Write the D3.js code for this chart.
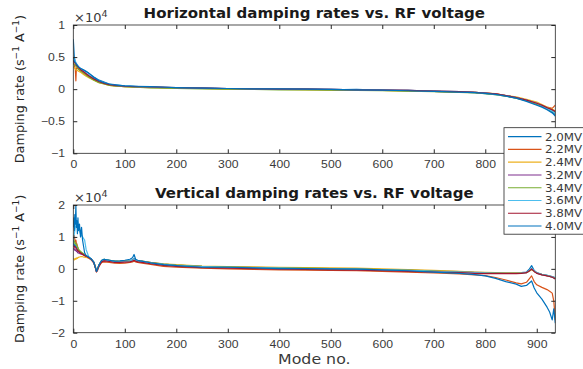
<!DOCTYPE html>
<html>
<head>
<meta charset="utf-8">
<script src="https://cdn.jsdelivr.net/npm/d3@7"></script>
<style>
  body { margin: 0; background: #fff; }
  svg { display: block; font-family: "DejaVu Sans", sans-serif; }
  .axis text { fill: #3a3a3a; font-size: 10.8px; }
  .axis line { stroke: #262626; }
</style>
</head>
<body>
<div id="chart"></div>
<script>
// legend labels / series names
var voltages = ["2.0MV", "2.2MV", "2.4MV", "3.2MV", "3.4MV", "3.6MV", "3.8MV", "4.0MV"];
var colors = ["#0072BD", "#D95319", "#EDB120", "#7E2F8E", "#77AC30", "#4DBEEE", "#A2142F", "#0072BD"];

// x ticks and y ticks (units of 1e4)
var modeTicks = [0, 100, 200, 300, 400, 500, 600, 700, 800, 900];
var hTicks = [-1, -0.5, 0, 0.5, 1];
var vTicks = [-2, -1, 0, 1, 2];

// horizontal damping rates, sampled at hModes (x 1e4 s^-1 A^-1)
var hModes = [0,2,4,5,6,8,10,15,20,25,30,40,50,60,70,80,100,120,150,180,200,250,300,350,400,450,500,550,600,650,700,750,780,800,820,840,860,880,900,910,920,930,936];
var h20 = [0.78,0.5,0.42,0.4,0.38,0.35,0.33,0.31,0.29,0.27,0.25,0.19,0.14,0.11,0.08,0.07,0.05,0.045,0.03,0.03,0.02,0.02,0.005,0.01,0.0,0.005,-0.01,-0.005,-0.02,-0.02,-0.035,-0.045,-0.055,-0.07,-0.085,-0.11,-0.14,-0.18,-0.24,-0.27,-0.31,-0.36,-0.4];
var h22 = [0.42,0.38,0.3,0.13,0.33,0.33,0.31,0.28,0.25,0.22,0.2,0.15,0.11,0.09,0.07,0.05,0.04,0.035,0.03,0.025,0.02,0.01,0.005,0.0,0.0,-0.005,-0.01,-0.015,-0.02,-0.025,-0.035,-0.045,-0.05,-0.06,-0.075,-0.1,-0.13,-0.17,-0.22,-0.25,-0.28,-0.3,-0.25];
var h24 = [0.35,0.33,0.32,0.3,0.3,0.29,0.28,0.26,0.23,0.2,0.18,0.14,0.1,0.08,0.06,0.05,0.04,0.03,0.025,0.02,0.015,0.01,0.005,0.0,-0.005,-0.01,-0.01,-0.015,-0.02,-0.03,-0.035,-0.045,-0.05,-0.06,-0.07,-0.1,-0.12,-0.16,-0.2,-0.24,-0.28,-0.31,-0.34];
var h32 = [0.45,0.43,0.41,0.4,0.38,0.36,0.34,0.3,0.27,0.24,0.21,0.16,0.12,0.09,0.07,0.06,0.045,0.04,0.03,0.025,0.02,0.015,0.01,0.005,0.0,0.0,-0.005,-0.01,-0.015,-0.02,-0.03,-0.04,-0.05,-0.06,-0.075,-0.1,-0.13,-0.17,-0.22,-0.25,-0.29,-0.33,-0.36];
var h34 = [0.4,0.38,0.37,0.36,0.35,0.33,0.31,0.28,0.25,0.22,0.19,0.14,0.1,0.08,0.06,0.05,0.04,0.03,0.02,0.015,0.01,0.005,0.0,-0.005,-0.01,-0.01,-0.015,-0.02,-0.025,-0.03,-0.04,-0.05,-0.06,-0.07,-0.085,-0.11,-0.14,-0.18,-0.23,-0.26,-0.3,-0.34,-0.37];
var h36 = [0.5,0.46,0.43,0.42,0.4,0.38,0.35,0.31,0.28,0.25,0.22,0.17,0.13,0.1,0.08,0.06,0.05,0.04,0.035,0.03,0.025,0.015,0.01,0.005,0.0,0.0,-0.005,-0.01,-0.015,-0.02,-0.03,-0.04,-0.05,-0.06,-0.08,-0.1,-0.13,-0.17,-0.22,-0.26,-0.3,-0.34,-0.37];
var h38 = [0.44,0.42,0.4,0.39,0.38,0.36,0.34,0.3,0.27,0.24,0.21,0.16,0.12,0.09,0.07,0.06,0.045,0.04,0.035,0.03,0.025,0.015,0.01,0.005,0.0,0.0,-0.005,-0.01,-0.015,-0.02,-0.03,-0.04,-0.05,-0.06,-0.075,-0.1,-0.13,-0.17,-0.22,-0.25,-0.29,-0.32,-0.35];
var h40 = [0.5,0.44,0.41,0.4,0.39,0.37,0.35,0.32,0.3,0.28,0.25,0.18,0.13,0.1,0.08,0.065,0.05,0.045,0.04,0.03,0.025,0.015,0.01,0.005,0.005,0.0,-0.005,-0.01,-0.015,-0.025,-0.035,-0.045,-0.055,-0.065,-0.08,-0.11,-0.14,-0.19,-0.25,-0.28,-0.32,-0.37,-0.42];

// vertical damping rates, sampled at vModes (x 1e4 s^-1 A^-1)
var vModes = [0,1,2,3,4,5,6,7,8,9,10,12,14,16,18,20,22,25,30,35,40,43,45,47,50,55,60,70,80,90,100,110,115,118,121,125,130,150,175,200,250,300,350,400,450,500,550,600,650,700,750,780,800,820,840,860,870,880,885,890,895,900,910,920,925,930,933,936];
var v20 = [0.75,0.8,0.7,0.75,0.7,0.72,0.68,0.65,0.62,0.6,0.58, 0.55,0.52,0.5,0.48,0.46,0.44,0.4, 0.36,0.3,0.2,0.05,-0.08,0.0,0.12, 0.25,0.3,0.27,0.24,0.23,0.24, 0.26,0.28,0.32,0.28,0.26,0.25, 0.2,0.15,0.12,0.08,0.06, 0.05,0.03,0.02,0.01,0.0,-0.02, -0.04,-0.06,-0.09,-0.11,-0.12, -0.13,-0.13,-0.13,-0.12,-0.1, -0.02,0.1,-0.05,-0.12,-0.17, -0.2,-0.22,-0.24,-0.26,-0.28];
var v22 = [1.0,0.95,1.05,0.9,0.85,0.9,0.8,0.78,0.7,0.65,0.6, 0.55,0.5,0.48,0.45,0.43,0.41,0.38, 0.33,0.28,0.18,0.02,-0.1,-0.05,0.08, 0.2,0.22,0.2,0.18,0.17,0.18, 0.2,0.22,0.24,0.22,0.2,0.19, 0.14,0.08,0.05,0.02,0.0, -0.02,-0.03,-0.04,-0.05,-0.06,-0.08, -0.1,-0.13,-0.16,-0.19,-0.21, -0.27,-0.35,-0.44,-0.47,-0.42, -0.32,-0.22,-0.4,-0.5,-0.58, -0.65,-0.7,-0.76,-1.0,-1.6];
var v24 = [0.3,0.32,0.28,0.3,0.33,0.3,0.32,0.35,0.33,0.35,0.36, 0.37,0.38,0.38,0.38,0.37,0.37,0.36, 0.34,0.3,0.2,0.05,-0.06,0.0,0.13, 0.25,0.28,0.26,0.24,0.24,0.25, 0.26,0.27,0.29,0.27,0.26,0.25, 0.2,0.16,0.13,0.09,0.07, 0.06,0.05,0.04,0.03,0.02,0.0, -0.02,-0.05,-0.08,-0.1,-0.11, -0.12,-0.12,-0.12,-0.12,-0.11, -0.08,-0.02,-0.08,-0.13,-0.18, -0.21,-0.23,-0.25,-0.27,-0.3];
var v32 = [0.6,0.65,0.62,0.58,0.6,0.57,0.55,0.56,0.52,0.5,0.5, 0.48,0.47,0.46,0.45,0.44,0.42,0.4, 0.36,0.3,0.2,0.04,-0.08,-0.01,0.12, 0.25,0.28,0.26,0.23,0.22,0.23, 0.25,0.27,0.3,0.27,0.25,0.24, 0.19,0.14,0.11,0.07,0.05, 0.04,0.02,0.01,0.0,-0.01,-0.03, -0.05,-0.08,-0.1,-0.12,-0.13, -0.13,-0.14,-0.14,-0.13,-0.12, -0.07,-0.01,-0.07,-0.13,-0.18, -0.21,-0.24,-0.26,-0.28,-0.31];
var v34 = [0.9,0.85,0.88,0.8,0.82,0.75,0.78,0.72,0.7,0.66,0.62, 0.58,0.55,0.52,0.5,0.47,0.44,0.41, 0.36,0.3,0.2,0.05,-0.07,0.0,0.12, 0.26,0.3,0.27,0.24,0.23,0.24, 0.25,0.27,0.3,0.27,0.25,0.24, 0.19,0.15,0.12,0.08,0.06, 0.04,0.03,0.02,0.01,0.0,-0.02, -0.04,-0.07,-0.1,-0.12,-0.13, -0.13,-0.14,-0.14,-0.13,-0.12, -0.06,0.0,-0.07,-0.13,-0.18, -0.21,-0.23,-0.26,-0.28,-0.3];
var v36 = [0.8,1.0,1.1,1.2,1.3,1.35,1.4,1.45,1.5,1.4,1.3, 1.2,1.1,1.05,1.0,0.95,0.9,0.6, 0.38,0.3,0.2,0.04,-0.08,-0.01,0.12, 0.26,0.29,0.26,0.23,0.22,0.23, 0.25,0.27,0.3,0.27,0.25,0.24, 0.18,0.14,0.1,0.07,0.05, 0.04,0.02,0.01,0.0,-0.01,-0.03, -0.05,-0.08,-0.1,-0.12,-0.13, -0.14,-0.14,-0.14,-0.13,-0.11, -0.05,0.02,-0.06,-0.13,-0.18, -0.2,-0.23,-0.25,-0.28,-0.3];
var v38 = [0.7,0.72,0.68,0.7,0.66,0.65,0.63,0.6,0.58,0.56,0.55, 0.52,0.5,0.48,0.46,0.44,0.42,0.4, 0.35,0.3,0.19,0.03,-0.09,-0.02,0.1, 0.22,0.25,0.23,0.2,0.2,0.21, 0.22,0.24,0.27,0.24,0.22,0.21, 0.16,0.11,0.08,0.04,0.02, 0.01,-0.01,-0.02,-0.03,-0.04,-0.06, -0.08,-0.1,-0.12,-0.14,-0.15, -0.15,-0.15,-0.15,-0.14,-0.12, -0.07,0.0,-0.08,-0.14,-0.19, -0.22,-0.24,-0.26,-0.29,-0.32];
var v40 = [1.3,1.6,1.2,1.7,1.4,2.0,1.3,1.5,1.1,1.6,1.2, 1.4,1.0,1.3,0.9,0.7,0.5,0.42, 0.37,0.31,0.2,0.04,-0.08,0.0,0.13, 0.27,0.3,0.27,0.24,0.25,0.27, 0.3,0.35,0.45,0.3,0.27,0.25, 0.19,0.13,0.1,0.05,0.05, 0.03,0.01,0.01,0.0,-0.01,-0.03, -0.06,-0.1,-0.14,-0.18,-0.22, -0.3,-0.4,-0.48,-0.55,-0.52, -0.45,-0.38,-0.6,-0.75,-0.95, -1.2,-1.35,-1.6,-1.25,-1.7];

var hSeries = [h20, h22, h24, h32, h34, h36, h38, h40];
var vSeries = [v20, v22, v24, v32, v34, v36, v38, v40];

var W = 583, H = 369;
var SX = 1.13; // the picture's text is a bit wider than tall

var svg = d3.select("#chart").append("svg")
    .attr("width", W)
    .attr("height", H);

function label(parent, x, y, str, size, anchor, weight, fill) {
    return parent.append("text")
        .attr("transform", "translate(" + x + "," + y + ") scale(" + SX + ",1)")
        .attr("text-anchor", anchor || "middle")
        .style("font-size", size + "px")
        .style("font-weight", weight || "normal")
        .attr("fill", fill || "#262626")
        .text(str);
}

var x = d3.scaleLinear().domain([0, 936]).range([73.3, 555.3]);

function drawPanel(opts) {
    var y = d3.scaleLinear().domain(opts.domain).range([opts.bottom, opts.top]);
    var g = svg.append("g");

    var clipId = "clip" + opts.id;
    svg.append("clipPath").attr("id", clipId)
        .append("rect")
        .attr("x", x.range()[0]).attr("y", opts.top)
        .attr("width", x.range()[1] - x.range()[0])
        .attr("height", opts.bottom - opts.top);

    var line = d3.line()
        .defined(function(d) { return d[1] != null; })
        .x(function(d) { return x(d[0]); })
        .y(function(d) { return y(d[1]); });

    opts.series.forEach(function(vals, i) {
        g.append("path")
            .datum(opts.modes.map(function(m, j) { return [m, vals[j]]; }))
            .attr("fill", "none")
            .attr("stroke", colors[i])
            .attr("stroke-width", 1.2)
            .attr("stroke-linejoin", "round")
            .attr("clip-path", "url(#" + clipId + ")")
            .attr("d", line);
    });

    // axes, MATLAB style ticks pointing inward
    // the top panel's last label sits under the legend box, so it is left out
    var xFmt = function(d) { return (opts.hideLast && d === 900) ? "" : d; };
    var xb = g.append("g").attr("class", "axis")
        .attr("transform", "translate(0," + opts.bottom + ")")
        .call(d3.axisBottom(x).tickValues(modeTicks).tickSizeInner(-4).tickSizeOuter(0).tickPadding(7.5).tickFormat(xFmt));
    var xt = g.append("g").attr("class", "axis")
        .attr("transform", "translate(0," + opts.top + ")")
        .call(d3.axisTop(x).tickValues(modeTicks).tickSizeInner(-4).tickSizeOuter(0).tickFormat(""));
    var yl = g.append("g").attr("class", "axis")
        .attr("transform", "translate(" + x.range()[0] + ",0)")
        .call(d3.axisLeft(y).tickValues(opts.ticks).tickSizeInner(-4).tickSizeOuter(0).tickPadding(7.3).tickFormat(d3.format("~g")));
    var yr = g.append("g").attr("class", "axis")
        .attr("transform", "translate(" + x.range()[1] + ",0)")
        .call(d3.axisRight(y).tickValues(opts.ticks).tickSizeInner(-4).tickSizeOuter(0).tickFormat(""));
    [xb, xt, yl, yr].forEach(function(a) { a.select(".domain").remove(); });
    xb.selectAll("text").attr("transform", "scale(" + SX + ",1)");
    yl.selectAll("text").attr("transform", "scale(" + SX + ",1)");

    g.append("rect")
        .attr("x", x.range()[0]).attr("y", opts.top)
        .attr("width", x.range()[1] - x.range()[0])
        .attr("height", opts.bottom - opts.top)
        .attr("fill", "none")
        .attr("stroke", "#262626")
        .attr("stroke-width", 0.8);

    // title
    label(g, 314.3, opts.top - 7, opts.title, 13.3, "middle", "bold", "#1a1a1a");

    // exponent
    var ex = label(g, 74, opts.top - 3, "×10", 11.5, "start", "normal", "#3a3a3a");
    ex.append("tspan").attr("dy", -5.5).style("font-size", "8.5px").text("4");

    // y label
    var yc = (opts.top + opts.bottom) / 2;
    var yt = g.append("text")
        .attr("transform", "translate(24," + yc + ") rotate(-90)")
        .attr("text-anchor", "middle")
        .style("font-size", "12.8px")
        .attr("fill", "#262626");
    yt.append("tspan").text("Damping rate (s");
    yt.append("tspan").attr("dy", -5).style("font-size", "9px").text("−1");
    yt.append("tspan").attr("dy", 5).text(" A");
    yt.append("tspan").attr("dy", -5).style("font-size", "9px").text("−1");
    yt.append("tspan").attr("dy", 5).text(")");
}

drawPanel({ id: 1, top: 25, bottom: 153.3, domain: [-1, 1], ticks: hTicks, hideLast: true,
            modes: hModes, series: hSeries, title: "Horizontal damping rates vs. RF voltage" });
drawPanel({ id: 2, top: 205, bottom: 332.7, domain: [-2, 2], ticks: vTicks,
            modes: vModes, series: vSeries, title: "Vertical damping rates vs. RF voltage" });

label(svg, 314.3, 364, "Mode no.", 14, "middle", "normal", "#3a3a3a");

// legend
var leg = svg.append("g").attr("transform", "translate(504,127.7)");
leg.append("rect")
    .attr("width", 110).attr("height", 106.5)
    .attr("fill", "#fff")
    .attr("stroke", "#262626")
    .attr("stroke-width", 0.8);
voltages.forEach(function(v, i) {
    var ly = 9 + i * 12.76;
    leg.append("line")
        .attr("x1", 4).attr("x2", 37.5)
        .attr("y1", ly).attr("y2", ly)
        .attr("stroke", colors[i])
        .attr("stroke-width", 1.2);
    label(leg, 41, ly + 3.9, v, 10.5, "start", "normal", "#3a3a3a");
});
</script>
</body>
</html>
